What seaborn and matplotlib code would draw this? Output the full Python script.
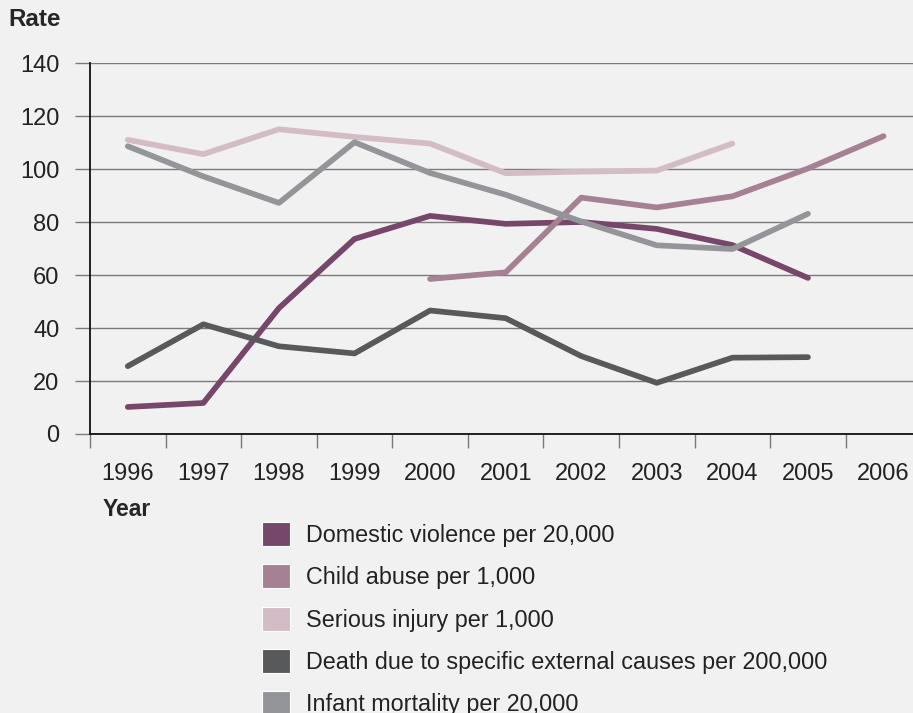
import numpy as np
import pandas as pd
import seaborn as sns
import matplotlib.pyplot as plt
from matplotlib.patches import Patch

years = ["1996", "1997", "1998", "1999", "2000", "2001", "2002", "2003", "2004", "2005", "2006"]
nan = np.nan
domestic = [10.2, 11.7, 47.5, 73.6, 82.3, 79.3, 80.0, 77.4, 71.3, 58.9, nan]
child_abuse = [nan, nan, nan, nan, 58.5, 61.0, 89.2, 85.5, 89.7, 100.2, 112.4]
serious_injury = [111.0, 105.6, 115.0, 112.1, 109.6, 98.4, 99.0, 99.4, 109.6, nan, nan]
death = [25.6, 41.4, 33.1, 30.4, 46.6, 43.7, 29.4, 19.3, 28.8, 29.0, nan]
infant = [108.6, 97.2, 87.2, 110.1, 98.5, 90.3, 80.2, 71.2, 69.8, 83.1, nan]

series = {
    "Domestic violence per 20,000": domestic,
    "Child abuse per 1,000": child_abuse,
    "Serious injury per 1,000": serious_injury,
    "Death due to specific external causes per 200,000": death,
    "Infant mortality per 20,000": infant,
}
colors = ["#77476b", "#a68193", "#d4bcc6", "#58595b", "#939598"]

rows = []
for name, vals in series.items():
    for i, v in enumerate(vals):
        if not np.isnan(v):
            rows.append((i, v, name))
df = pd.DataFrame(rows, columns=["Year", "Rate", "Measure"])

sns.set_theme(style="white")
plt.rcParams["font.family"] = ["Liberation Sans", "DejaVu Sans"]
bg = "#f1f1f1"

fig = plt.figure(figsize=(9.13, 7.13), dpi=100, facecolor=bg)
ax = fig.add_axes([90 / 913, 1 - 434 / 713, 1 - 90 / 913, (434 - 63) / 713])
ax.set_facecolor(bg)

sns.lineplot(data=df, x="Year", y="Rate", hue="Measure", palette=colors,
             hue_order=list(series.keys()), linewidth=4.1, ax=ax,
             legend=False, solid_capstyle="round")

ax.set_yticks(range(0, 141, 20))
ax.yaxis.grid(True, color="#7a7a7a", linewidth=1.0)
ax.set_axisbelow(True)
ax.tick_params(axis="y", which="major", length=11, width=1.0, color="#7a7a7a",
               direction="out", left=True, pad=11, labelsize=17, labelcolor="#222222")

ax.set_xticks(range(len(years)))
ax.set_xticklabels(years)
ax.set_xticks(np.arange(-0.5, 10.6, 1.0), minor=True)
ax.tick_params(axis="x", which="major", length=0, pad=21, labelsize=17, labelcolor="#222222")
ax.tick_params(axis="x", which="minor", length=10, width=1.0, color="#7a7a7a",
               direction="out", bottom=True)

# limits after the ticks, so the minor ticks do not widen the view
ax.set_ylim(0, 140)
ax.set_xlim(-0.5, 10.39)

for s in ["top", "right"]:
    ax.spines[s].set_visible(False)
for s in ["left", "bottom"]:
    ax.spines[s].set_color("#111111")
    ax.spines[s].set_linewidth(1.3)

ax.set_xlabel("")
ax.set_ylabel("")
fig.text(8 / 913, 1 - 20 / 713, "Rate", fontsize=17.5, fontweight="bold", va="center", ha="left")
fig.text(103 / 913, 1 - 510 / 713, "Year", fontsize=16.5, fontweight="bold", va="center", ha="left")

handles = [Patch(facecolor=c, edgecolor="white", linewidth=0.8) for c in colors]
fig.legend(handles, list(series.keys()), loc="upper left",
           bbox_to_anchor=(262 / 913, 1 - 522 / 713), frameon=False,
           fontsize=16.8, handlelength=1.2, handleheight=1.2,
           handletextpad=0.7, labelspacing=0.75, borderpad=0, borderaxespad=0,
           labelcolor="#222222")

fig.savefig("out.png", dpi=100, facecolor=bg)
